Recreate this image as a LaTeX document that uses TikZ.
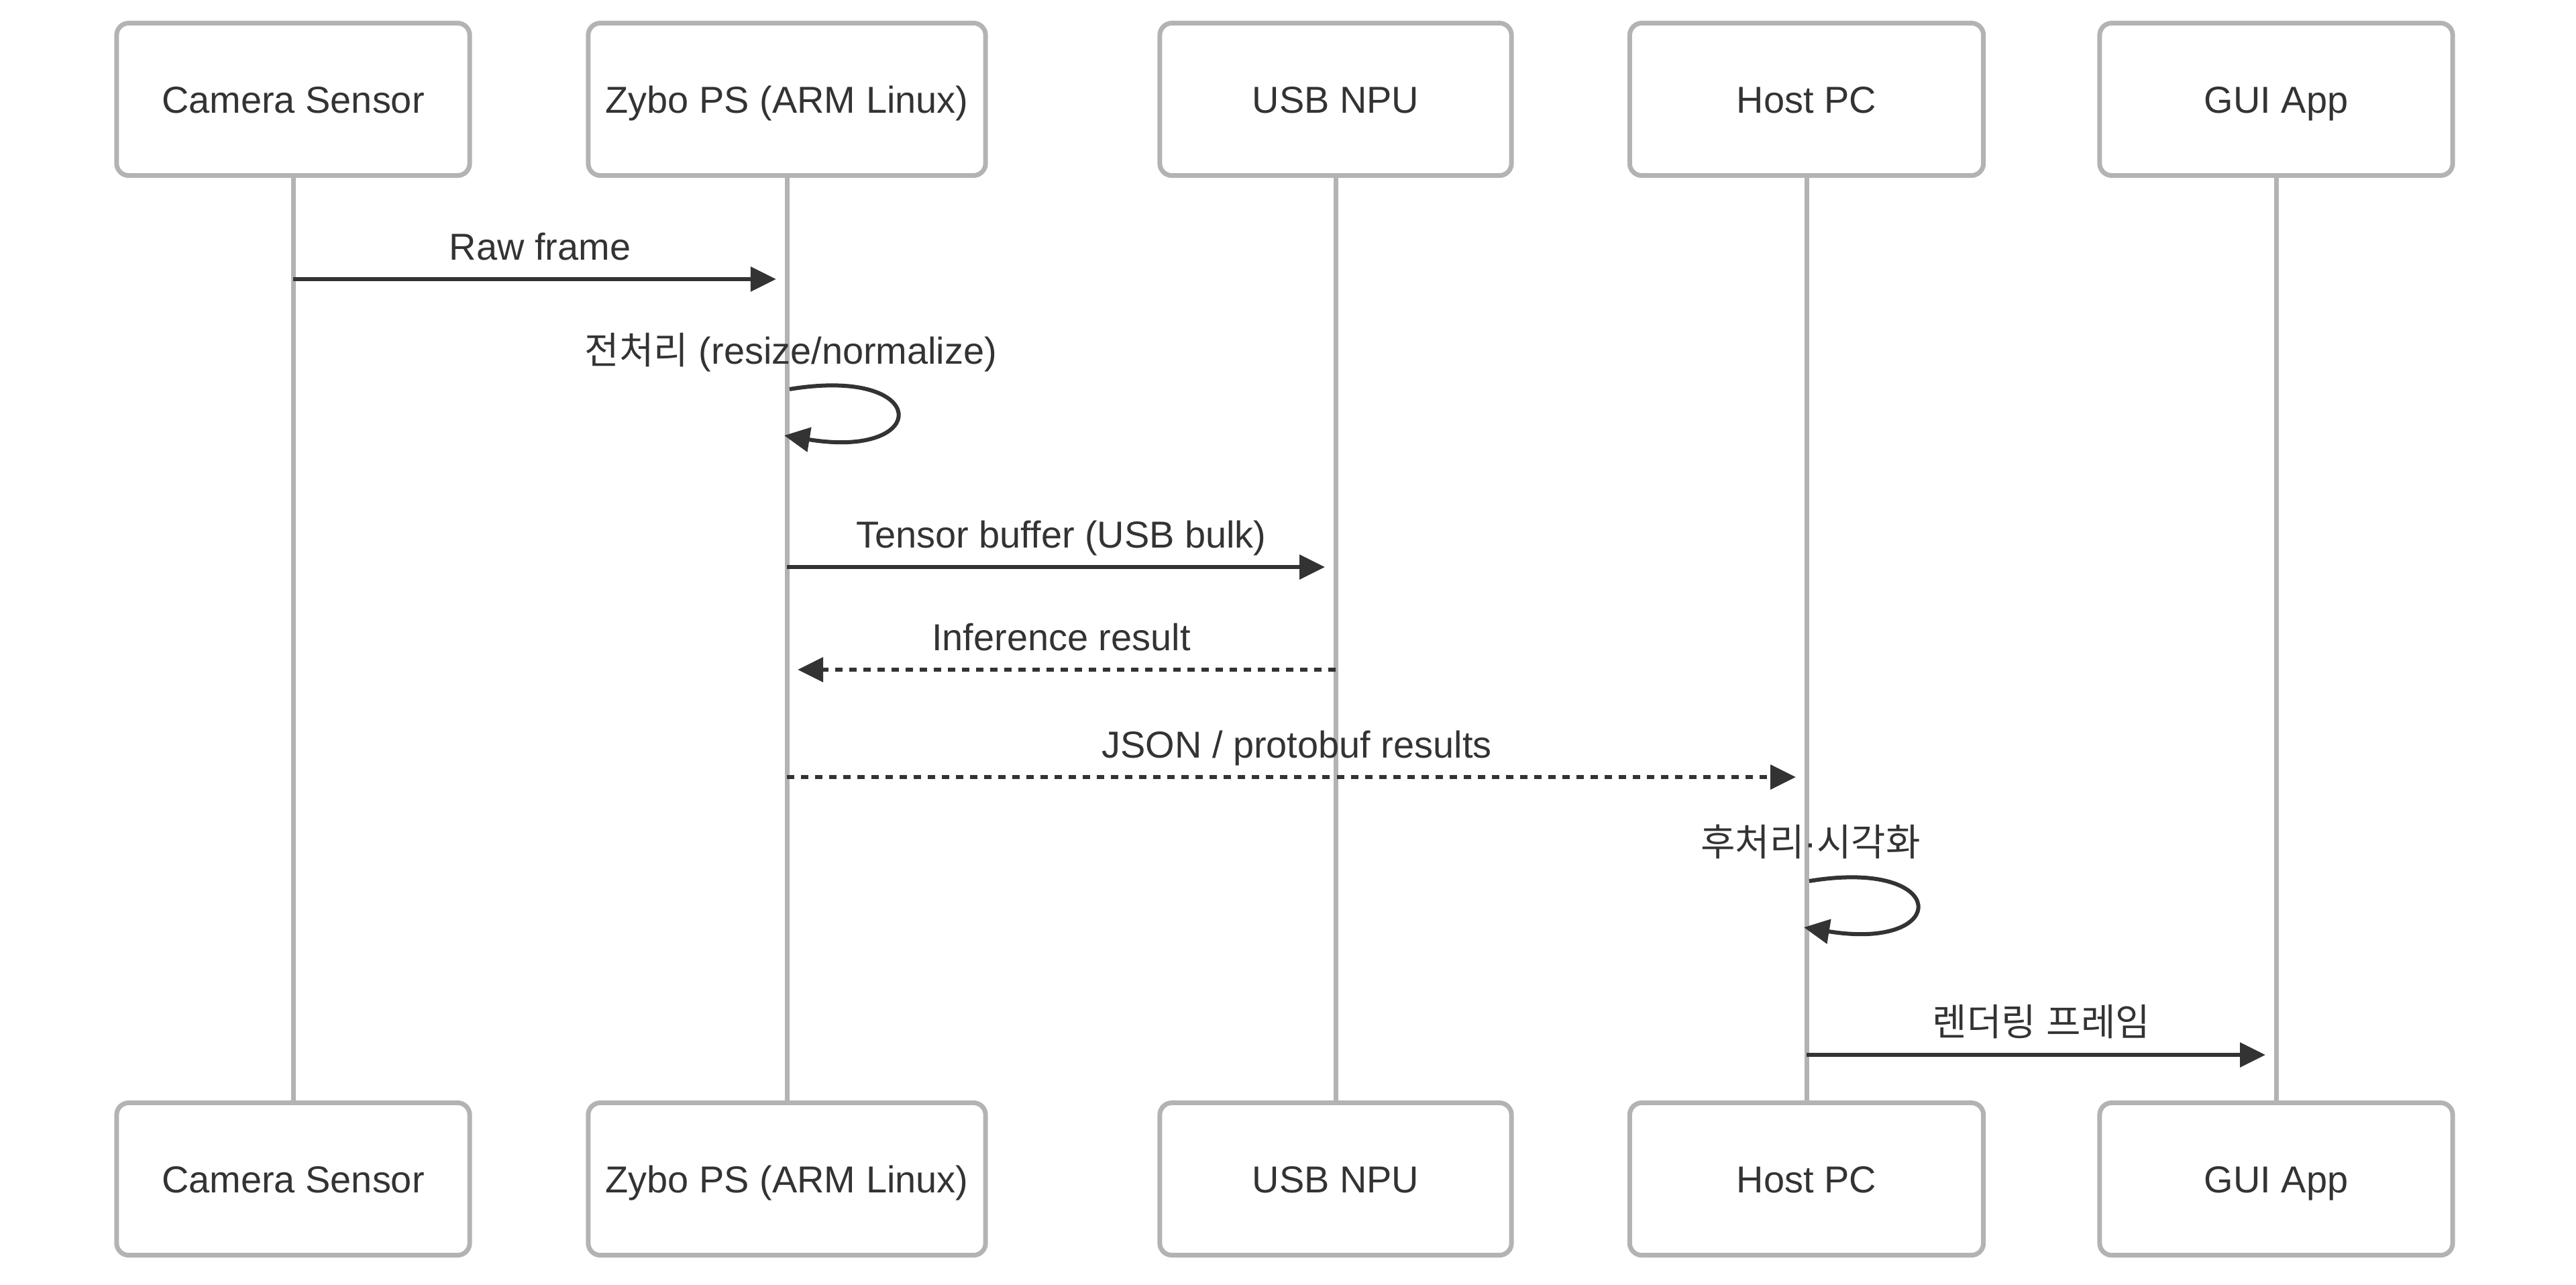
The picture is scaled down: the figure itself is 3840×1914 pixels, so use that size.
\documentclass[tikz,border=0pt]{standalone}
\usepackage{fontspec}
\setmainfont{Liberation Sans}
\newfontfamily\krfont{Noto Sans CJK KR}
\usepackage{tikz}
\usetikzlibrary{arrows.meta,positioning,calc}
\definecolor{inkc}{HTML}{333333}
\definecolor{rulec}{HTML}{B3B3B3}
\tikzset{
  >={Triangle[length=3.8mm,width=3.6mm]},
  actor/.style={draw=rulec,line width=0.7mm,rounded corners=1.8mm,fill=white,
    minimum height=22.7mm,text=inkc,inner sep=0pt,
    text height=12pt,text depth=0.6pt,
    font=\fontsize{15.9}{19}\selectfont},
  lifeline/.style={draw=rulec,line width=0.7mm},
  msg/.style={->,draw=inkc,line width=0.6mm,shorten >=1.6mm},
  reply/.style={msg,dash pattern=on 1.1mm off 1mm},
  selfmsg/.style={->,draw=inkc,line width=0.6mm},
  msglbl/.style={text=inkc,anchor=base,inner sep=0pt,
    font=\fontsize{15.9}{19}\selectfont},
}

\begin{document}
\begin{tikzpicture}[x=0.01cm,y=-0.01cm]
  \useasboundingbox (0,0) rectangle (3840,1914);
  % actors, top row
  \node[actor,minimum width=52.6mm] (camT) at (437,148) {Camera Sensor};
  \node[actor,minimum width=59.2mm] (zyboT) at (1173,148) {Zybo PS (ARM Linux)};
  \node[actor,minimum width=52.4mm] (npuT) at (1991,148) {USB NPU};
  \node[actor,minimum width=52.7mm] (hostT) at (2693,148) {Host PC};
  \node[actor,minimum width=52.6mm] (guiT) at (3393,148) {GUI App};
  % actors, bottom row
  \node[actor,minimum width=52.6mm] (camB) at (437,1757) {Camera Sensor};
  \node[actor,minimum width=59.2mm] (zyboB) at (1173,1757) {Zybo PS (ARM Linux)};
  \node[actor,minimum width=52.4mm] (npuB) at (1991,1757) {USB NPU};
  \node[actor,minimum width=52.7mm] (hostB) at (2693,1757) {Host PC};
  \node[actor,minimum width=52.6mm] (guiB) at (3393,1757) {GUI App};
  \foreach \a in {cam,zybo,npu,host,gui}
    \draw[lifeline] (\a T.south) -- (\a B.north);
  % message rows
  \coordinate (r1) at (0,416);
  \coordinate (r2) at (0,580);
  \coordinate (r3) at (0,845);
  \coordinate (r4) at (0,998);
  \coordinate (r5) at (0,1158);
  \coordinate (r6) at (0,1313);
  \coordinate (r7) at (0,1572);
  \draw[msg] (camT |- r1) -- (zyboT |- r1)
    node[msglbl,midway,yshift=2.9mm] {Raw frame};
  \coordinate (pre) at ($(zyboT |- r2)+(4,0)$);
  \draw[selfmsg] (pre) .. controls +(212,-35) and +(220,36) .. ++(-8,69);
  \node[msglbl] (preL) at ($(pre)+(2,-38)$) {{\krfont 전처리} (resize/normalize)};
  \draw[msg] (zyboT |- r3) -- (npuT |- r3)
    node[msglbl,midway,yshift=2.9mm] {Tensor buffer (USB bulk)};
  \draw[reply] (npuT |- r4) -- (zyboT |- r4)
    node[msglbl,midway,yshift=2.9mm] {Inference result};
  \draw[reply] (zyboT |- r5) -- (hostT |- r5)
    node[msglbl,midway,yshift=2.9mm] {JSON / protobuf results};
  \coordinate (post) at ($(hostT |- r6)+(4,0)$);
  \draw[selfmsg] (post) .. controls +(212,-35) and +(220,36) .. ++(-8,69);
  \node[msglbl] (postL) at ($(post)+(2,-38)$)
    {{\krfont 후처리}·{\krfont 시각화}};
  \draw[msg] (hostT |- r7) -- (guiT |- r7)
    node[msglbl,midway,yshift=2.9mm] {{\krfont 렌더링} {\krfont 프레임}};
\end{tikzpicture}
\end{document}
